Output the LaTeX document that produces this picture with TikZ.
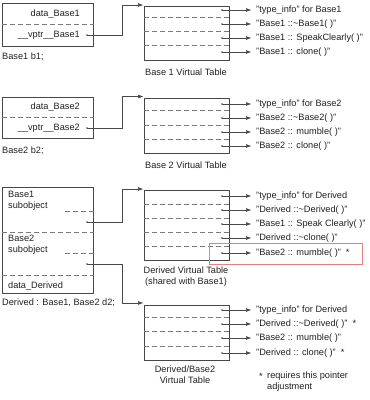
\documentclass[tikz,border=0pt]{standalone}
\usepackage{fontspec}
\setmainfont{Liberation Sans}
\usetikzlibrary{arrows.meta,calc}
\definecolor{linegray}{HTML}{484848}
\definecolor{dashgray}{HTML}{7A7A7A}
\definecolor{txtc}{HTML}{202020}
\definecolor{hired}{HTML}{E88080}
\begin{document}
\begin{tikzpicture}[x=1pt,y=-1pt,
  box/.style={draw=linegray, line width=0.7pt, inner sep=0pt, anchor=north west},
  dsh/.style={draw=dashgray, line width=0.65pt, dash pattern=on 5pt off 3pt},
  ptr/.style={draw=linegray, line width=0.55pt, -{Triangle[length=5pt,width=3.5pt]}},
  txt/.style={inner sep=0pt, font=\fontsize{9.2}{11}\selectfont, text=txtc},
  ent/.style={txt, anchor=west},
  lab/.style={txt, align=center},
  dotc/.style={circle, fill=linegray, inner sep=0pt, minimum size=1.6pt},
]
\useasboundingbox (0,0) rectangle (370,400);

% ---------------- Block 1 ----------------
\node[box, minimum width=91pt, minimum height=43pt] (O1) at (2,3) {};
\draw[dsh] (O1.west |- 0,24) -- (O1.east |- 0,24);
\node[txt, anchor=east] (O1a) at (80,14) {data\_Base1};
\node[txt, anchor=east] (O1b) at (80,35) {\_\_vptr\_\_Base1};
\node[dotc] (O1d) at (87,35) {};
\node[txt, anchor=west] (O1l) at (2,57) {Base1 b1;};

\node[box, minimum width=85pt, minimum height=54pt] (T1) at (144,6) {};
\foreach \y in {17.5,31.5,45.5} \draw[dsh] (T1.west |- 0,\y) -- (T1.east |- 0,\y);
\foreach \y/\t [count=\i] in {10/{"type\_info" for Base1},24/{"Base1 ::\textasciitilde Base1( )"},38/{"Base1 :: SpeakClearly( )"},52/{"Base1 :: clone( )"}}{
  \node[dotc] (T1d\i) at (222,\y) {};
  \node[ent] (T1e\i) at (256,\y) {\t};
  \draw[ptr, shorten >=5pt] (T1d\i.center) -- (T1e\i.west);
}
\node[lab] (T1l) at (186,72) {Base 1 Virtual Table};
\coordinate (T1in) at ($(T1.north west)+(-1,-1)$);
\draw[ptr] (O1d.center) -| ($(T1in)+(-21,0)$) -- (T1in);

% ---------------- Block 2 ----------------
\node[box, minimum width=91pt, minimum height=41pt] (O2) at (2,97) {};
\draw[dsh] (O2.west |- 0,117) -- (O2.east |- 0,117);
\node[txt, anchor=east] (O2a) at (80,107) {data\_Base2};
\node[txt, anchor=east] (O2b) at (80,128) {\_\_vptr\_\_Base2};
\node[dotc] (O2d) at (87,128) {};
\node[txt, anchor=west] (O2l) at (2,151) {Base2 b2;};

\node[box, minimum width=85pt, minimum height=55pt] (T2) at (144,98) {};
\foreach \y in {110.5,125,139.5} \draw[dsh] (T2.west |- 0,\y) -- (T2.east |- 0,\y);
\foreach \y/\t [count=\i] in {104/{"type\_info" for Base2},118/{"Base2 ::\textasciitilde Base2( )"},132/{"Base2 :: mumble( )"},146/{"Base2 :: clone( )"}}{
  \node[dotc] (T2d\i) at (222,\y) {};
  \node[ent] (T2e\i) at (256,\y) {\t};
  \draw[ptr, shorten >=5pt] (T2d\i.center) -- (T2e\i.west);
}
\node[lab] (T2l) at (186,165) {Base 2 Virtual Table};
\coordinate (T2in) at ($(T2.north west)+(-1,-1.5)$);
\draw[ptr] (O2d.center) -| ($(T2in)+(-21,0)$) -- (T2in);

% ---------------- Block 3 ----------------
\node[box, minimum width=91pt, minimum height=106pt] (O3) at (2,187) {};
\draw[dsh] (O3.west |- 0,232) -- (O3.east |- 0,232);
\draw[dsh] (O3.west |- 0,275) -- (O3.east |- 0,275);
\draw[dsh] (65,211) -- (O3.east |- 0,211);
\draw[dsh] (65,253) -- (O3.east |- 0,253);
\node[txt, anchor=north west, align=left] (O3a) at (8,191) {Base1\\subobject};
\node[txt, anchor=north west, align=left] (O3b) at (8,235) {Base2\\subobject};
\node[txt, anchor=west] (O3c) at (8,286) {data\_Derived};
\node[dotc] (O3d1) at (87,222) {};
\node[dotc] (O3d2) at (87,264) {};
\node[txt, anchor=west] (O3l) at (2,303) {Derived : Base1, Base2 d2;};

\node[box, minimum width=85pt, minimum height=70pt] (T3) at (144,190) {};
\foreach \y in {204,218,232,246} \draw[dsh] (T3.west |- 0,\y) -- (T3.east |- 0,\y);
\foreach \y/\t [count=\i] in {196/{"type\_info" for Derived},210/{"Derived ::\textasciitilde Derived( )"},224/{"Base1 :: Speak Clearly( )"},238/{"Derived ::\textasciitilde clone( )"},253/{"Base2 :: mumble( )"\ \ *}}{
  \node[dotc] (T3d\i) at (222,\y) {};
  \node[ent] (T3e\i) at (256,\y) {\t};
  \draw[ptr, shorten >=5pt] (T3d\i.center) -- (T3e\i.west);
}
\node[draw=hired, line width=0.6pt, anchor=north west, minimum width=153pt, minimum height=21pt, inner sep=0pt] (R) at (209,243) {};
\node[lab] (T3l) at (186,277) {Derived Virtual Table\\(shared with Base1)};
\coordinate (T3in) at ($(T3.north west)+(-1,-1)$);
\draw[ptr] (O3d1.center) -| ($(T3in)+(-21,0)$) -- (T3in);

% ---------------- Block 4 ----------------
\node[box, minimum width=85pt, minimum height=55pt] (T4) at (144,305) {};
\foreach \y in {317,331.5,346} \draw[dsh] (T4.west |- 0,\y) -- (T4.east |- 0,\y);
\foreach \y/\t [count=\i] in {310/{"type\_info" for Derived},324/{"Derived ::\textasciitilde Derived( )"\ \ *},338/{"Base2 :: mumble( )"},353/{"Derived :: clone( )"\ \ *}}{
  \node[dotc] (T4d\i) at (222,\y) {};
  \node[ent] (T4e\i) at (256,\y) {\t};
  \draw[ptr, shorten >=5pt] (T4d\i.center) -- (T4e\i.west);
}
\node[lab] (T4l) at (185,375) {Derived/Base2\\Virtual Table};
\coordinate (T4in) at ($(T4.north west)+(-1,-2)$);
\draw[ptr] (O3d2.center) -| ($(T4in)+(-21,0)$) -- (T4in);

% footnote
\node[txt, anchor=west] (FNs) at (259,376) {*};
\node[txt, anchor=north west, align=left] (FN) at (267,372) {requires this pointer\\adjustment};
\end{tikzpicture}
\end{document}
